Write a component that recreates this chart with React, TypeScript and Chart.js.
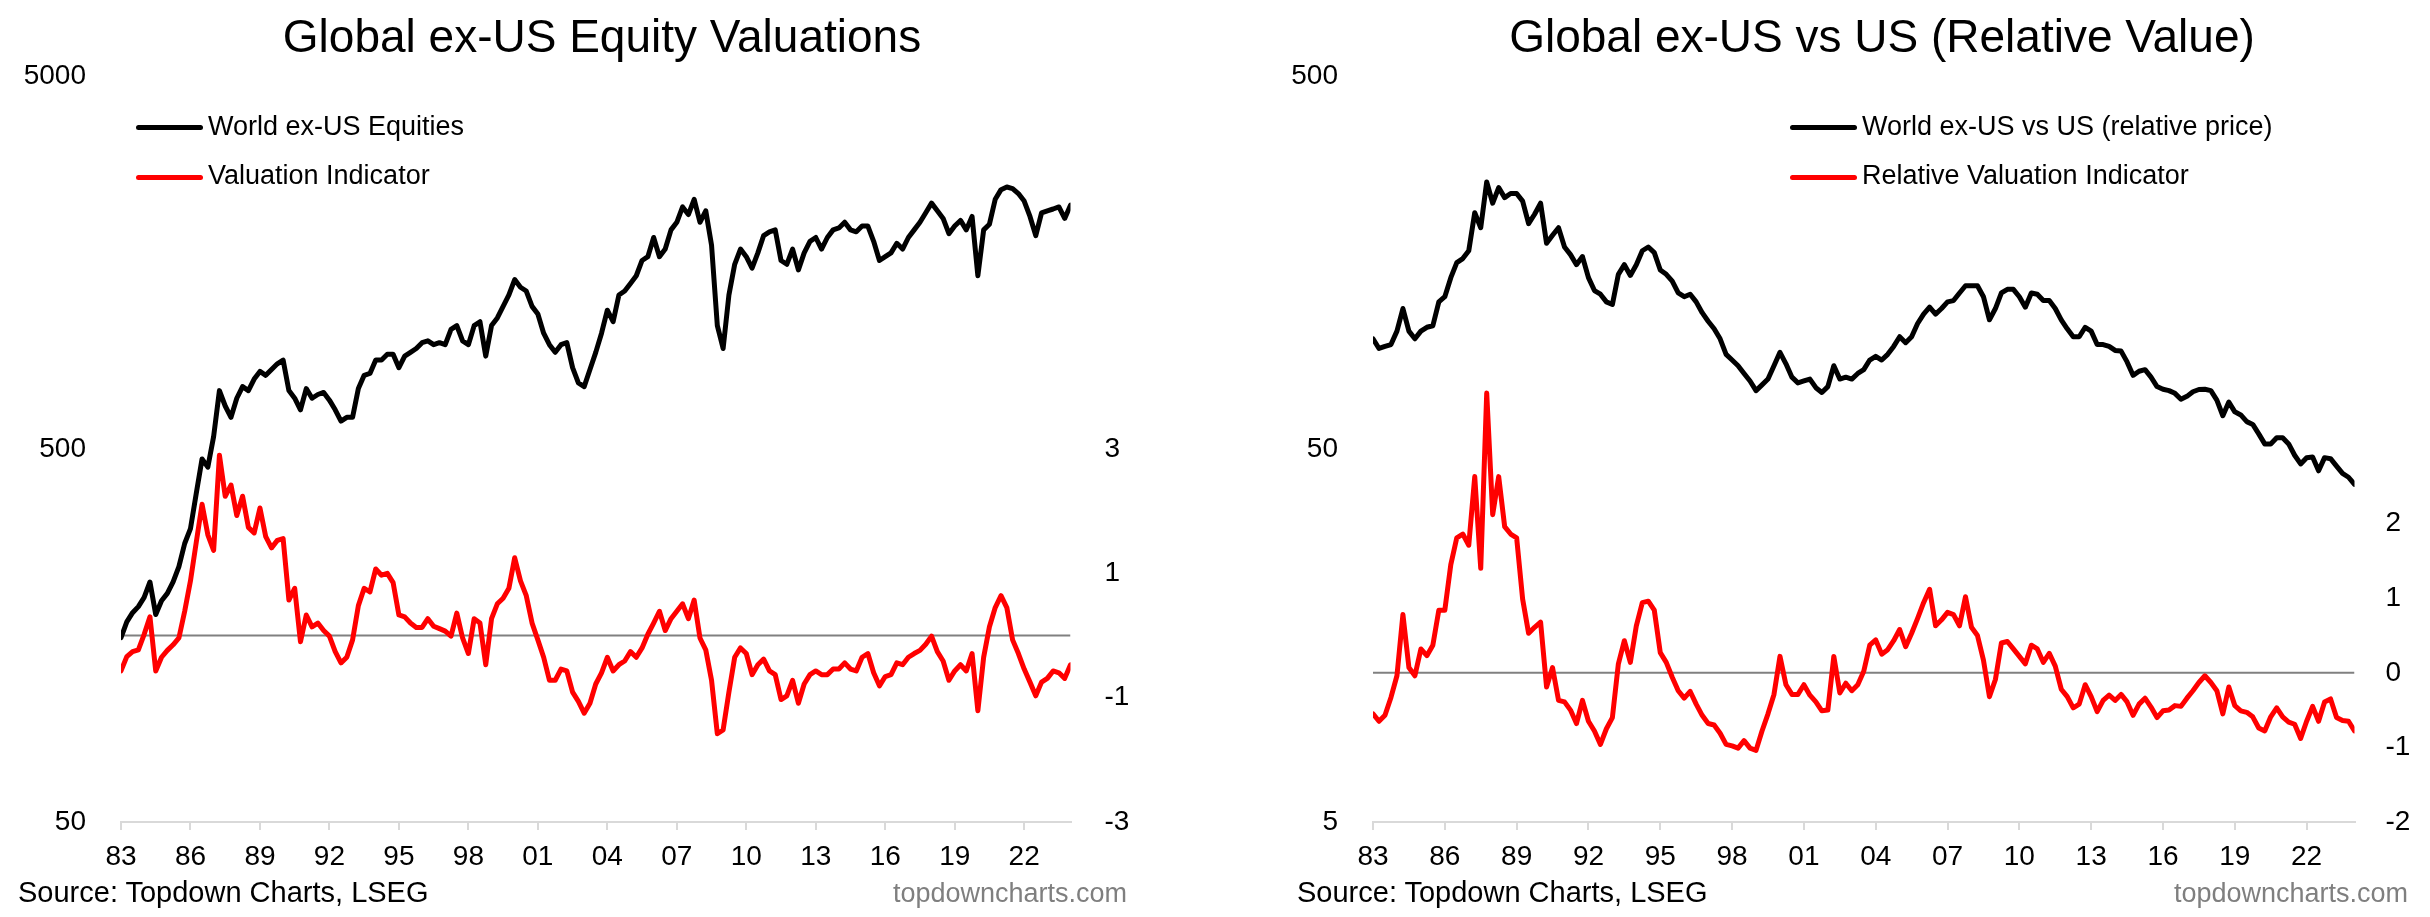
import React, { useRef, useEffect } from "react";
import Chart from "chart.js/auto";

// quarterly observations, Q1 1983 .. Q1 2024
const startYear = 1983;
const quarters: number[] = Array.from({ length: 165 }, (_, i) => startYear + i * 0.25);
const yearTicks = [1983, 1986, 1989, 1992, 1995, 1998, 2001, 2004, 2007, 2010, 2013, 2016, 2019, 2022];

// left panel
const worldExUs = [
  156, 172, 182, 189, 200, 220, 180, 196, 205, 220, 242, 279,
  306, 380, 470, 447, 540, 717, 652, 608, 684, 735, 717, 770,
  807, 788, 817, 846, 866, 717, 684, 637, 726, 684, 700, 709,
  676, 637, 594, 608, 608, 726, 788, 797, 866, 866, 897, 897,
  826, 887, 908, 930, 964, 975, 952, 964, 952, 1046, 1071, 975,
  952, 1071, 1097, 887, 1071, 1123, 1206, 1294, 1423, 1357, 1326, 1206,
  1150, 1022, 952, 908, 952, 964, 826, 752, 735, 817, 908, 1022,
  1178, 1097, 1294, 1326, 1389, 1457, 1601, 1639, 1845, 1639, 1718, 1934,
  2027, 2228, 2126, 2336, 2027, 2176, 1760, 1071, 930, 1294, 1564, 1718,
  1639, 1527, 1678, 1867, 1911, 1934, 1601, 1564, 1718, 1510, 1678, 1802,
  1845, 1718, 1845, 1934, 1957, 2027, 1934, 1911, 1980, 1980, 1802, 1601,
  1639, 1678, 1780, 1718, 1845, 1934, 2027, 2149, 2281, 2176, 2076, 1889,
  1980, 2050, 1934, 2101, 1457, 1934, 2003, 2336, 2479, 2520, 2495, 2420,
  2311, 2101, 1867, 2149, 2176, 2200, 2228, 2076, 2253,
];
const valuationIndicator = [
  -0.57, -0.34, -0.26, -0.23, 0.02, 0.3, -0.57, -0.35, -0.24, -0.15, -0.04, 0.39,
  0.88, 1.5, 2.11, 1.62, 1.37, 2.9, 2.24, 2.42, 1.93, 2.24, 1.74, 1.65,
  2.05, 1.59, 1.41, 1.53, 1.56, 0.57, 0.76, -0.1, 0.33, 0.14, 0.2, 0.08,
  -0.01, -0.26, -0.44, -0.35, -0.07, 0.48, 0.76, 0.7, 1.07, 0.97, 1.0, 0.85,
  0.33, 0.3, 0.2, 0.13, 0.13, 0.27, 0.15, 0.11, 0.07, -0.01, 0.36, -0.04,
  -0.29, 0.27, 0.2, -0.47, 0.27, 0.51, 0.6, 0.76, 1.25, 0.88, 0.64, 0.2,
  -0.07, -0.35, -0.72, -0.72, -0.54, -0.57, -0.91, -1.06, -1.25, -1.09, -0.78, -0.6,
  -0.35, -0.57, -0.47, -0.41, -0.26, -0.35, -0.2, 0.02, 0.2, 0.39, 0.08, 0.27,
  0.39, 0.51, 0.27, 0.57, -0.04, -0.23, -0.72, -1.58, -1.52, -0.91, -0.35, -0.2,
  -0.29, -0.63, -0.47, -0.38, -0.57, -0.63, -1.03, -0.97, -0.72, -1.09, -0.78, -0.63,
  -0.57, -0.63, -0.63, -0.54, -0.54, -0.44, -0.54, -0.57, -0.35, -0.29, -0.6, -0.81,
  -0.66, -0.63, -0.44, -0.47, -0.35, -0.29, -0.24, -0.14, -0.01, -0.26, -0.41, -0.72,
  -0.57, -0.47, -0.57, -0.29, -1.21, -0.35, 0.14, 0.45, 0.64, 0.45, -0.07, -0.29,
  -0.54, -0.75, -0.97, -0.75, -0.69, -0.57, -0.6, -0.69, -0.47,
];

// right panel
const relativePrice = [
  98.7, 93, 94.2, 95.3, 103.5, 119, 103.5, 98.7, 103.5, 106, 107, 124,
  128, 144, 158, 162, 170, 215, 196, 260, 228, 251, 236, 242,
  242, 231, 201, 213, 228, 178, 187, 196, 174, 166, 156, 164,
  144, 133, 130, 124, 122, 147, 156, 146, 156, 170, 174, 168,
  151, 147, 141, 131, 128, 130, 124, 116, 110, 105, 98.7, 89.7,
  86.6, 83.6, 79.7, 76.1, 71.7, 74.3, 77.0, 83.6, 90.8, 84.6, 77.9, 75.2,
  76.1, 77.0, 73.0, 70.9, 73.5, 83.6, 77.0, 77.9, 77.0, 79.7, 81.6, 86.6,
  88.6, 86.6, 89.7, 94.2, 100, 96.4, 100, 108.5, 115, 120, 115, 119,
  124, 125, 131, 137, 137, 137, 128, 111, 119, 131, 134, 134,
  128, 120, 131, 130, 125, 125, 119, 111, 105, 100, 100, 106,
  103.5, 95.3, 95.3, 94.2, 91.9, 91.5, 85.6, 78.8, 80.8, 81.6, 77.9, 73.5,
  72.3, 71.7, 70.5, 68, 69.2, 71.2, 72.2, 72.3, 71.7, 67.6, 61.4, 66.8,
  62.9, 61.7, 59.2, 58.2, 54.9, 51.6, 51.6, 53.6, 53.6, 51.6, 48.1, 45.6,
  47.4, 47.6, 43.7, 47.4, 47.1, 45.0, 43.0, 42.0, 40.2,
];
const relativeValuation = [
  -0.55, -0.65, -0.57, -0.33, -0.04, 0.78, 0.07, -0.04, 0.32, 0.23, 0.37, 0.84,
  0.84, 1.45, 1.81, 1.86, 1.71, 2.63, 1.4, 3.75, 2.12, 2.63, 1.96, 1.86,
  1.81, 0.99, 0.53, 0.61, 0.68, -0.19, 0.07, -0.37, -0.39, -0.5, -0.68, -0.37,
  -0.65, -0.78, -0.96, -0.75, -0.6, 0.12, 0.43, 0.14, 0.63, 0.94, 0.96, 0.84,
  0.27, 0.14, -0.06, -0.24, -0.34, -0.25, -0.42, -0.57, -0.68, -0.7, -0.81, -0.96,
  -0.98, -1.01, -0.91, -1.01, -1.04, -0.78, -0.55, -0.29, 0.22, -0.16, -0.29, -0.29,
  -0.16, -0.3, -0.39, -0.51, -0.5, 0.22, -0.27, -0.14, -0.24, -0.16, 0.02, 0.37,
  0.44, 0.25, 0.31, 0.43, 0.58, 0.35, 0.53, 0.73, 0.94, 1.12, 0.63, 0.71,
  0.81, 0.78, 0.63, 1.02, 0.61, 0.5, 0.17, -0.32, -0.09, 0.4, 0.42, 0.32,
  0.22, 0.12, 0.37, 0.32, 0.14, 0.26, 0.09, -0.22, -0.32, -0.47, -0.42, -0.16,
  -0.32, -0.52, -0.37, -0.3, -0.37, -0.29, -0.39, -0.57, -0.42, -0.34, -0.46, -0.6,
  -0.51, -0.5, -0.44, -0.45, -0.34, -0.24, -0.13, -0.04, -0.13, -0.24, -0.55, -0.19,
  -0.44, -0.51, -0.53, -0.59, -0.74, -0.78, -0.59, -0.47, -0.59, -0.66, -0.69, -0.88,
  -0.65, -0.45, -0.65, -0.39, -0.35, -0.6, -0.64, -0.65, -0.78,
];

const leftPriceTicks = [50, 500, 5000];
const leftIndicatorTicks = [-3, -1, 1, 3];
const rightPriceTicks = [5, 50, 500];
const rightIndicatorTicks = [-2, -1, 0, 1, 2];

const FONT = "'Liberation Sans', Arial, sans-serif";

interface PanelProps {
  offset: number;
  title: string;
  titleCenter: number;
  priceLabel: string;
  indicatorLabel: string;
  price: number[];
  indicator: number[];
  priceTicks: number[];
  indicatorTicks: number[];
  indicatorMin: number;
  indicatorMax: number;
  leftWidth: number;
  rightWidth: number;
  rightPad: number;
  legendLeft: number;
  sourceLeft: number;
  siteRight: number;
}

const Panel: React.FC<PanelProps> = (p) => {
  const canvasRef = useRef<HTMLCanvasElement | null>(null);
  const chartRef = useRef<Chart | null>(null);

  useEffect(() => {
    if (chartRef.current) chartRef.current.destroy();
    if (!canvasRef.current) return;
    const ctx = canvasRef.current.getContext("2d");
    if (!ctx) return;

    const tickFont = { family: FONT, size: 28 };
    const last = quarters[quarters.length - 1];

    chartRef.current = new Chart(ctx, {
      type: "line",
      data: {
        datasets: [
          {
            label: p.indicatorLabel,
            data: quarters.map((x, i) => ({ x, y: p.indicator[i] })),
            yAxisID: "yInd",
            borderColor: "#ff0000",
            borderWidth: 5,
            pointRadius: 0,
            borderJoinStyle: "round",
            borderCapStyle: "round",
            order: 0,
          },
          {
            label: p.priceLabel,
            data: quarters.map((x, i) => ({ x, y: p.price[i] })),
            yAxisID: "yPrice",
            borderColor: "#000000",
            borderWidth: 5,
            pointRadius: 0,
            borderJoinStyle: "round",
            borderCapStyle: "round",
            order: 1,
          },
          {
            label: "zero",
            data: [
              { x: quarters[0], y: 0 },
              { x: last, y: 0 },
            ],
            yAxisID: "yInd",
            borderColor: "#808080",
            borderWidth: 2,
            pointRadius: 0,
            order: 2,
          },
        ],
      },
      options: {
        animation: false,
        responsive: false,
        devicePixelRatio: 1,
        layout: { padding: { top: 76, left: 0, right: 0, bottom: 0 } },
        plugins: {
          legend: { display: false },
          tooltip: { enabled: false },
          title: { display: false },
        },
        scales: {
          x: {
            type: "linear",
            min: quarters[0],
            max: last,
            afterBuildTicks: (s: any) => {
              s.ticks = yearTicks.map((v) => ({ value: v }));
            },
            afterFit: (s: any) => {
              s.height = 95;
            },
            grid: {
              display: true,
              drawOnChartArea: false,
              drawTicks: true,
              tickLength: 8,
              color: "#d9d9d9",
              lineWidth: 2,
            },
            border: { display: true, color: "#d9d9d9", width: 2 },
            ticks: {
              font: tickFont,
              color: "#000",
              padding: 10,
              autoSkip: false,
              maxRotation: 0,
              callback: (v: any) => String(Number(v) % 100).padStart(2, "0"),
            },
          },
          yPrice: {
            type: "logarithmic",
            position: "left",
            min: p.priceTicks[0],
            max: p.priceTicks[p.priceTicks.length - 1],
            afterBuildTicks: (s: any) => {
              s.ticks = p.priceTicks.map((v) => ({ value: v }));
            },
            afterFit: (s: any) => {
              s.width = p.leftWidth;
            },
            grid: { display: false },
            border: { display: false },
            ticks: {
              font: tickFont,
              color: "#000",
              padding: 27,
              callback: (v: any) => String(v),
            },
          },
          yInd: {
            type: "linear",
            position: "right",
            min: p.indicatorMin,
            max: p.indicatorMax,
            afterBuildTicks: (s: any) => {
              s.ticks = p.indicatorTicks.map((v) => ({ value: v }));
            },
            afterFit: (s: any) => {
              s.width = p.rightWidth;
            },
            grid: { display: false },
            border: { display: false },
            ticks: {
              font: tickFont,
              color: "#000",
              padding: p.rightPad,
              callback: (v: any) => String(v),
            },
          },
        },
      },
    });

    return () => {
      if (chartRef.current) {
        chartRef.current.destroy();
        chartRef.current = null;
      }
    };
  }, [p]);

  const abs = (style: React.CSSProperties): React.CSSProperties => ({
    position: "absolute",
    whiteSpace: "nowrap",
    fontFamily: FONT,
    ...style,
  });

  return (
    <>
      <canvas
        ref={canvasRef}
        width={1215}
        height={917}
        style={{ position: "absolute", left: p.offset, top: 0, width: 1215, height: 917 }}
      />
      <div style={abs({ left: p.titleCenter - 500, width: 1000, top: 13, fontSize: 46, lineHeight: "46px", textAlign: "center" })}>
        {p.title}
      </div>
      <div style={abs({ left: p.legendLeft, top: 124.5, width: 67, height: 5, borderRadius: 2.5, background: "#000" })} />
      <div style={abs({ left: p.legendLeft + 72, top: 113, fontSize: 27, lineHeight: "27px" })}>{p.priceLabel}</div>
      <div style={abs({ left: p.legendLeft, top: 174.5, width: 67, height: 5, borderRadius: 2.5, background: "#ff0000" })} />
      <div style={abs({ left: p.legendLeft + 72, top: 162, fontSize: 27, lineHeight: "27px" })}>{p.indicatorLabel}</div>
      <div style={abs({ left: p.sourceLeft, top: 878, fontSize: 29, lineHeight: "29px" })}>Source: Topdown Charts, LSEG</div>
      <div style={abs({ left: p.siteRight - 400, width: 400, top: 880, fontSize: 27, lineHeight: "27px", textAlign: "right", color: "#7f7f7f" })}>
        topdowncharts.com
      </div>
    </>
  );
};

const leftPanel: PanelProps = {
  offset: 0,
  title: "Global ex-US Equity Valuations",
  titleCenter: 602,
  priceLabel: "World ex-US Equities",
  indicatorLabel: "Valuation Indicator",
  price: worldExUs,
  indicator: valuationIndicator,
  priceTicks: leftPriceTicks,
  indicatorTicks: leftIndicatorTicks,
  indicatorMin: -3,
  indicatorMax: 9,
  leftWidth: 121,
  rightWidth: 144.5,
  rightPad: 26,
  legendLeft: 136,
  sourceLeft: 18,
  siteRight: 1127,
};

const rightPanel: PanelProps = {
  offset: 1215,
  title: "Global ex-US vs US (Relative Value)",
  titleCenter: 1882,
  priceLabel: "World ex-US vs US (relative price)",
  indicatorLabel: "Relative Valuation Indicator",
  price: relativePrice,
  indicator: relativeValuation,
  priceTicks: rightPriceTicks,
  indicatorTicks: rightIndicatorTicks,
  indicatorMin: -2,
  indicatorMax: 8,
  leftWidth: 158,
  rightWidth: 75.5,
  rightPad: 23,
  legendLeft: 1790,
  sourceLeft: 1297,
  siteRight: 2408,
};

export default function App() {
  return (
    <div style={{ position: "absolute", left: 0, top: 0, width: 2430, height: 917, background: "#fff", overflow: "hidden" }}>
      <Panel {...leftPanel} />
      <Panel {...rightPanel} />
    </div>
  );
}
